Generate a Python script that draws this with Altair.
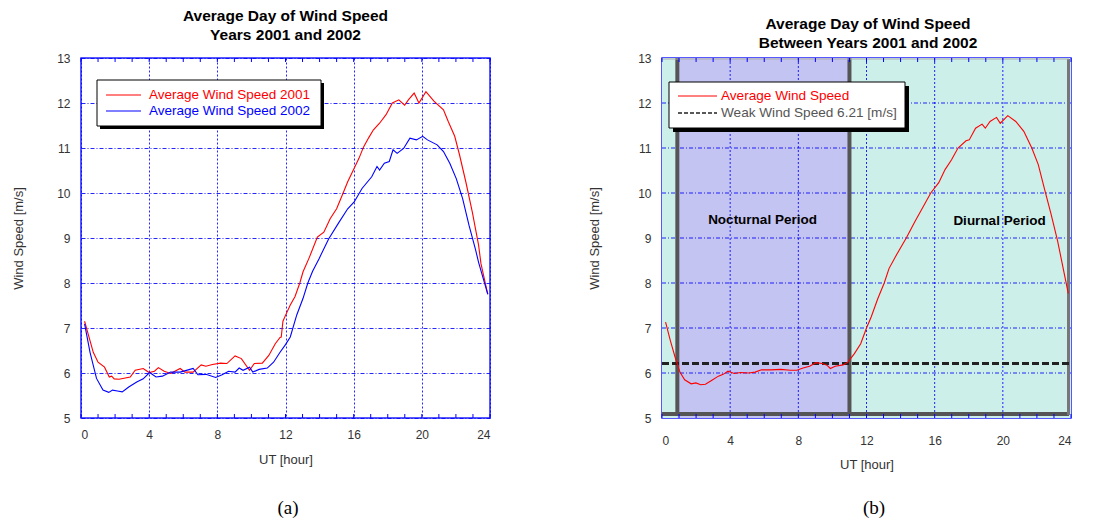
import altair as alt
import pandas as pd

# ---------------- data ----------------
hours_2001 = [0.21, 0.72, 1.00, 1.38, 1.66, 1.80, 1.95, 2.23, 2.89, 3.18, 3.65, 4.00, 4.31, 4.54,
              4.88, 5.26, 5.82, 6.10, 6.58, 7.05, 7.33, 7.71, 8.19, 8.56, 9.04, 9.41, 9.89, 10.17,
              10.64, 11.02, 11.40, 11.68, 11.75, 11.85, 12.00, 12.28, 12.56, 12.84, 13.03, 13.40,
              13.87, 14.25, 14.62, 15.00, 15.37, 15.65, 16.03, 16.31, 16.59, 16.87, 17.15, 17.52,
              17.90, 18.27, 18.65, 18.99, 19.21, 19.55, 19.83, 20.24, 20.71, 21.27, 21.55, 21.93,
              22.21, 22.58, 22.96, 23.33, 23.47, 23.87]
speed_2001 = [7.15, 6.46, 6.24, 6.13, 5.91, 5.93, 5.87, 5.86, 5.91, 6.06, 6.10, 6.01, 6.04, 6.12,
              6.04, 5.99, 6.10, 6.02, 6.02, 6.18, 6.15, 6.19, 6.22, 6.21, 6.38, 6.32, 6.06, 6.21,
              6.22, 6.39, 6.65, 6.79, 6.80, 7.15, 7.28, 7.51, 7.70, 8.00, 8.25, 8.57,
              9.02, 9.13, 9.43, 9.65, 9.99, 10.25, 10.55, 10.77, 11.03, 11.22, 11.40, 11.55,
              11.74, 12.00, 12.07, 11.95, 12.07, 12.22, 12.00, 12.25, 12.04, 11.85, 11.59, 11.26,
              10.85, 10.25, 9.58, 8.84, 8.43, 7.75]

hours_2002 = [0.21, 0.53, 0.91, 1.29, 1.63, 1.85, 2.14, 2.42, 2.80, 3.27, 3.65, 4.03, 4.40, 4.78,
              5.26, 5.82, 6.29, 6.58, 6.86, 7.33, 7.90, 8.28, 8.66, 9.04, 9.28, 9.51, 9.89, 10.08,
              10.45, 10.93, 11.30, 11.68, 12.00, 12.28, 12.66, 13.03, 13.31, 13.59, 13.97, 14.53,
              15.09, 15.65, 16.03, 16.49, 17.06, 17.37, 17.52, 17.80, 18.09, 18.31, 18.55, 18.93,
              19.30, 19.68, 20.05, 20.33, 20.90, 21.27, 21.64, 22.02, 22.39, 22.77, 23.14, 23.33,
              23.87]
speed_2002 = [7.09, 6.46, 5.88, 5.62, 5.57, 5.62, 5.60, 5.58, 5.69, 5.80, 5.87, 6.01, 5.91, 5.93,
              6.02, 6.02, 6.07, 6.10, 5.96, 5.97, 5.90, 5.96, 6.04, 6.02, 6.11, 6.06, 6.13, 6.02,
              6.08, 6.11, 6.24, 6.46, 6.63, 6.80, 7.29, 7.66, 8.00, 8.26, 8.54, 8.98,
              9.32, 9.65, 9.80, 10.10, 10.36, 10.59, 10.51, 10.66, 10.70, 10.96, 10.88, 10.99,
              11.22, 11.18, 11.26, 11.18, 11.07, 10.92, 10.66, 10.32, 9.88, 9.28, 8.76, 8.46,
              7.75]

hours_avg = [0.21, 0.49, 0.77, 1.05, 1.33, 1.71, 1.99, 2.27, 2.55, 2.93, 3.31, 3.59, 3.87, 4.24,
             4.62, 5.09, 5.46, 5.84, 6.40, 6.97, 7.53, 7.91, 8.28, 8.66, 9.03, 9.41, 9.69, 9.88,
             10.16, 10.63, 10.91, 11.29, 11.66, 12.00, 12.28, 12.66, 13.04, 13.32, 13.69, 14.35,
             14.82, 15.30, 15.77, 16.24, 16.61, 16.99, 17.37, 17.84, 18.03, 18.40, 18.78, 18.97,
             19.25, 19.63, 19.85, 20.29, 20.76, 21.23, 21.70, 22.08, 22.45, 22.83, 23.21, 23.84]
speed_avg = [7.13, 6.72, 6.35, 6.02, 5.85, 5.76, 5.78, 5.74, 5.75, 5.84, 5.93, 5.97, 6.04, 5.99,
             6.01, 6.00, 6.02, 6.07, 6.07, 6.08, 6.06, 6.06, 6.11, 6.15, 6.23, 6.21, 6.17, 6.10,
             6.15, 6.18, 6.24, 6.43, 6.65, 7.00, 7.25, 7.65, 8.00, 8.32, 8.58, 9.01,
             9.35, 9.68, 10.00, 10.23, 10.52, 10.74, 11.00, 11.16, 11.18, 11.44, 11.53, 11.44,
             11.59, 11.68, 11.55, 11.72, 11.59, 11.37, 11.00, 10.63, 10.08, 9.53, 8.94, 7.77]

series_names = ["Average Wind Speed 2001", "Average Wind Speed 2002"]
series_colors = ["#ff0000", "#0000ff"]
x_ticks = [0, 4, 8, 12, 16, 20, 24]
y_ticks = [5, 6, 7, 8, 9, 10, 11, 12, 13]
minor_hours = list(range(0, 25))
weak_wind = [6.21]
nocturnal_start = [0.9]
nocturnal_end = [11.0]
title_a = ["Average Day of Wind Speed", "Years 2001 and 2002"]
title_b = ["Average Day of Wind Speed", "Between Years 2001 and 2002"]
legend_b = ["Average Wind Speed", "Weak Wind Speed 6.21 [m/s]"]
period_labels = ["Nocturnal Period", "Diurnal Period"]
x_title = "UT [hour]"
y_title = "Wind Speed [m/s]"

# ---------------- styling ----------------
W, H = 409, 360
FONT = "Liberation Sans"
GRID = "#0000ff"

xscale = alt.Scale(domain=[0, 24], nice=False, zero=False)
yscale = alt.Scale(domain=[5, 13], nice=False, zero=False)


def xaxis(grid, label_pad, title_y):
    return alt.Axis(values=x_ticks, title=x_title, grid=grid, gridDash=[2, 2], gridColor=GRID,
                    labelPadding=label_pad, titleY=title_y, titleBaseline="middle")


def yaxis(grid, tx):
    return alt.Axis(values=y_ticks, title=y_title, grid=grid, gridDash=[4, 2, 1, 2], gridColor=GRID,
                    titleX=tx, titleY=H / 2, titleAngle=-90, titleBaseline="middle", titleAlign="center")


one = pd.DataFrame({"a": [0]})


def txt(s, x, y, **kw):
    return alt.Chart(pd.DataFrame({"t": [s]})).mark_text(**kw).encode(
        x=alt.value(x), y=alt.value(y), text="t:N")


def box(x, x2, y, y2, **kw):
    return alt.Chart(one).mark_rect(**kw).encode(
        x=alt.value(x), x2=alt.value(x2), y=alt.value(y), y2=alt.value(y2))


def seg(x, x2, y, y2, **kw):
    return alt.Chart(one).mark_rule(**kw).encode(
        x=alt.value(x), x2=alt.value(x2), y=alt.value(y), y2=alt.value(y2))


tick_df = pd.DataFrame({"hour": minor_hours})


def inner_ticks():
    b = alt.Chart(tick_df).mark_rule(color=GRID, strokeWidth=1).encode(
        x=alt.X("hour:Q", scale=xscale, title=x_title), y=alt.value(H), y2=alt.value(H - 4))
    t = alt.Chart(tick_df).mark_rule(color=GRID, strokeWidth=1).encode(
        x=alt.X("hour:Q", scale=xscale, title=x_title), y=alt.value(0), y2=alt.value(4))
    return [b, t]


def bold_title(s, x, y):
    return txt(s, x, y, align="center", baseline="middle", fontSize=15.5, fontWeight="bold",
               font=FONT, color="#000000")


# ---------------- panel (a) ----------------
df_a = pd.concat([
    pd.DataFrame({"hour": hours_2001, "speed": speed_2001, "series": series_names[0]}),
    pd.DataFrame({"hour": hours_2002, "speed": speed_2002, "series": series_names[1]}),
])

lines_a = alt.Chart(df_a).mark_line(strokeWidth=1.1).encode(
    x=alt.X("hour:Q", scale=xscale, axis=xaxis(True, 11.5, 41.75)),
    y=alt.Y("speed:Q", scale=yscale, axis=yaxis(True, -62.5)),
    color=alt.Color("series:N", scale=alt.Scale(domain=series_names, range=series_colors), legend=None),
)

leg_a = [
    box(19, 243, 25, 71, fill="#000000"),
    box(16, 240, 22, 68, fill="#ffffff", stroke="#000000", strokeWidth=1),
    seg(25, 60, 37, 37, color=series_colors[0], strokeWidth=1),
    seg(25, 60, 53, 53, color=series_colors[1], strokeWidth=1),
    txt(series_names[0], 68, 37, align="left", baseline="middle", fontSize=13.5, font=FONT,
        color=series_colors[0]),
    txt(series_names[1], 68, 53, align="left", baseline="middle", fontSize=13.5, font=FONT,
        color=series_colors[1]),
]

titles_a = [
    bold_title(title_a[0], W / 2, -41.75),
    bold_title(title_a[1], W / 2, -22.75),
    txt("(a)", 207, 449.75, align="center", baseline="middle", fontSize=19, font="Liberation Serif",
        color="#000000"),
]

panel_a = alt.layer(lines_a, *inner_ticks(), *leg_a, *titles_a).properties(width=W, height=H)

# ---------------- panel (b) ----------------
df_b = pd.DataFrame({"hour": hours_avg, "speed": speed_avg})

bg = alt.Chart(pd.DataFrame({"x0": [0], "x1": [24]})).mark_rect(color="#ccefea").encode(
    x=alt.X("x0:Q", scale=xscale, axis=xaxis(False, 17.5, 46.75)), x2="x1:Q",
    y=alt.value(0), y2=alt.value(H))
noct = alt.Chart(pd.DataFrame({"x0": nocturnal_start, "x1": nocturnal_end})).mark_rect(
    color="#c4c4f2").encode(
    x=alt.X("x0:Q", scale=xscale, title=x_title), x2="x1:Q", y=alt.value(0), y2=alt.value(H))

vgrid = alt.Chart(pd.DataFrame({"g": x_ticks[1:-1]})).mark_rule(
    color=GRID, strokeDash=[2, 2], strokeWidth=1, opacity=0.85).encode(
    x=alt.X("g:Q", scale=xscale, title=x_title), y=alt.value(0), y2=alt.value(H))
hgrid = alt.Chart(pd.DataFrame({"g": y_ticks[1:-1]})).mark_rule(
    color=GRID, strokeDash=[4, 2, 1, 2], strokeWidth=1, opacity=0.85).encode(
    y=alt.Y("g:Q", scale=yscale, axis=yaxis(False, -68)), x=alt.value(0), x2=alt.value(W))

gray_v = alt.Chart(pd.DataFrame({"h": nocturnal_start + nocturnal_end})).mark_rule(
    color="#555555", strokeWidth=4).encode(
    x=alt.X("h:Q", scale=xscale, title=x_title), y=alt.value(0), y2=alt.value(H - 3))
gray_b = seg(0, W - 2, H - 4, H - 4, color="#555555", strokeWidth=4)
gray_r = seg(W - 2.5, W - 2.5, 1, H - 3, color="#777777", strokeWidth=3)
gray_t = seg(0, W - 2, 1, 1, color="#aaaaaa", strokeWidth=1)

weak = alt.Chart(pd.DataFrame({"v": weak_wind})).mark_rule(
    color="#222222", strokeWidth=3, strokeDash=[7, 3]).encode(
    y=alt.Y("v:Q", scale=yscale, title=y_title), x=alt.value(0), x2=alt.value(W))

line_b = alt.Chart(df_b).mark_line(strokeWidth=1.1, color="#ff0000").encode(
    x=alt.X("hour:Q", scale=xscale, title=x_title),
    y=alt.Y("speed:Q", scale=yscale, title=y_title),
)

labels_b = [
    txt(period_labels[0], 100.5, 162, align="center", baseline="middle", fontSize=13.5,
        fontWeight="bold", font=FONT, color="#000000"),
    txt(period_labels[1], 337.5, 163, align="center", baseline="middle", fontSize=13.5,
        fontWeight="bold", font=FONT, color="#000000"),
]

leg_b = [
    box(11, 247, 28, 74, fill="#000000"),
    box(7, 243, 24, 70, fill="#ffffff", stroke="#000000", strokeWidth=1),
    seg(16, 55, 38, 38, color="#ff0000", strokeWidth=1),
    seg(16, 55, 55, 55, color="#222222", strokeWidth=1.6, strokeDash=[4, 2]),
    txt(legend_b[0], 59, 38, align="left", baseline="middle", fontSize=13.6, font=FONT, color="#ff0000"),
    txt(legend_b[1], 59, 55, align="left", baseline="middle", fontSize=13.6, font=FONT, color="#555555"),
]

titles_b = [
    bold_title(title_b[0], 206, -34.25),
    bold_title(title_b[1], 206, -15.25),
    txt("(b)", 212, 449.75, align="center", baseline="middle", fontSize=19, font="Liberation Serif",
        color="#000000"),
]

panel_b = alt.layer(bg, noct, vgrid, hgrid, gray_v, gray_b, gray_r, gray_t, weak, line_b,
                    *labels_b, *inner_ticks(), *leg_b, *titles_b).properties(width=W, height=H)

chart = alt.hconcat(panel_a, panel_b, spacing=95).properties(
    padding={"left": 3, "top": 0, "right": 5, "bottom": 5}
).configure(font=FONT).configure_view(
    stroke="#2020ff", strokeWidth=1.5
).configure_axis(
    labelFont=FONT, labelFontSize=12, labelColor="#333333",
    titleFont=FONT, titleFontSize=13, titleFontWeight="normal", titleColor="#333333",
    domain=False, ticks=False, tickSize=0, gridOpacity=0.85, gridWidth=1,
).configure_axisY(labelPadding=11)

chart.save("out.html", embed_options={"renderer": "svg", "actions": False})
